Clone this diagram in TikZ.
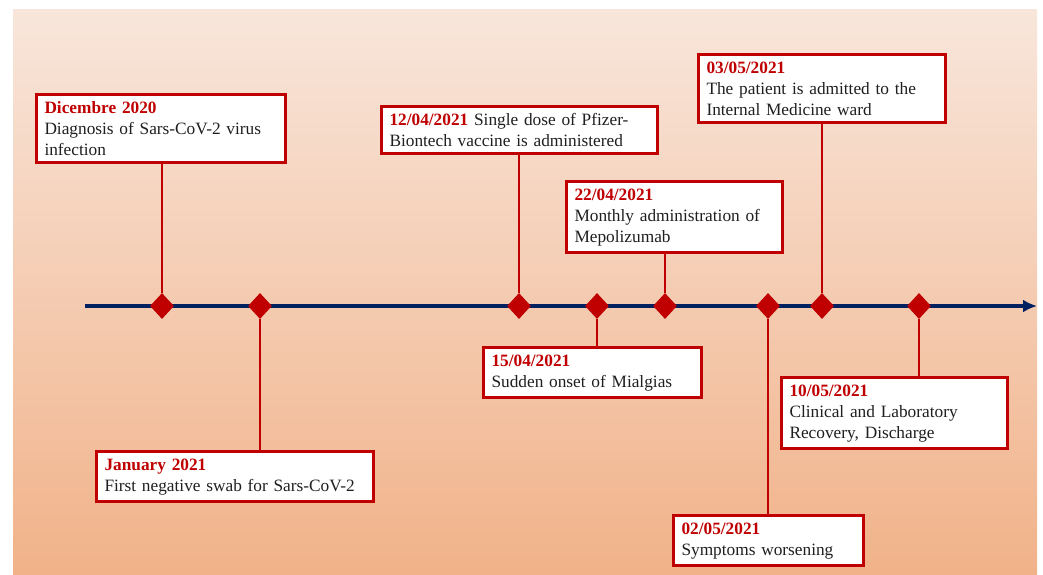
\documentclass[tikz,border=0pt]{standalone}
\usepackage{fontspec}
\setmainfont{Liberation Serif}
\usepackage{tikz}
\usetikzlibrary{arrows.meta,shapes.geometric}

\definecolor{evred}{RGB}{192,0,0}
\definecolor{axisblue}{RGB}{0,32,96}
\definecolor{peachtop}{RGB}{248,230,219}
\definecolor{peachbot}{RGB}{241,178,137}

\newcommand{\evdate}[1]{{\color{evred}\bfseries #1}}

\begin{document}
\begin{tikzpicture}[x=1pt,y=-1pt,
		event/.style={rectangle,draw=evred,line width=3pt,fill=white,anchor=north west,
			align=left,inner xsep=8pt,inner ysep=7pt,text=black!88,font=\fontsize{17.3}{21}\selectfont},
		evdiamond/.style={diamond,fill=evred,inner sep=0pt,minimum width=24pt,minimum height=26pt},
		stem/.style={evred,line width=2pt}]
		\useasboundingbox (0,0) rectangle (1043,574);
		\shade[top color=peachtop,bottom color=peachbot] (13,9) rectangle (1037,574);
%		\draw[help lines,step=50] (0,0) grid (1043,574);
		\path (85,306) coordinate (tl_start);
		\path (1037,306) coordinate (tl_end);

		\draw[axisblue,line width=3.5pt,-{Latex[length=14pt,width=13pt]}] (tl_start) -- (tl_end);

		\node[evdiamond] (dic20) at (162,306) {};
		\node[evdiamond] (jan21) at (260,306) {};
		\node[evdiamond] (apr12) at (519,306) {};
		\node[evdiamond] (apr15) at (597,306) {};
		\node[evdiamond] (apr22) at (665,306) {};
		\node[evdiamond] (may02) at (768,306) {};
		\node[evdiamond] (may03) at (822,306) {};
		\node[evdiamond] (may10) at (919,306) {};

		\node[event,text width=233pt] (dic20_box) at (35,93)
			{\evdate{Dicembre 2020}\\Diagnosis of Sars-CoV-2 virus\\infection};
		\node[event,text width=261pt] (jan21_box) at (95,450)
			{\evdate{January 2021}\\First negative swab for Sars-CoV-2};
		\node[event,text width=260pt] (apr12_box) at (380,105)
			{\evdate{12/04/2021} Single dose of Pfizer-\\Biontech vaccine is administered};
		\node[event,text width=202pt] (apr15_box) at (482,346)
			{\evdate{15/04/2021}\\Sudden onset of Mialgias};
		\node[event,text width=200pt] (apr22_box) at (565,180)
			{\evdate{22/04/2021}\\Monthly administration of\\Mepolizumab};
		\node[event,text width=174pt] (may02_box) at (672,514)
			{\evdate{02/05/2021}\\Symptoms worsening};
		\node[event,text width=231pt] (may03_box) at (697,53)
			{\evdate{03/05/2021}\\The patient is admitted to the\\Internal Medicine ward};
		\node[event,text width=210pt] (may10_box) at (780,376)
			{\evdate{10/05/2021}\\Clinical and Laboratory\\Recovery, Discharge};

		\draw[stem] (dic20) -- (dic20 |- dic20_box.south);
		\draw[stem] (jan21) -- (jan21 |- jan21_box.north);
		\draw[stem] (apr12) -- (apr12 |- apr12_box.south);
		\draw[stem] (apr15) -- (apr15 |- apr15_box.north);
		\draw[stem] (apr22) -- (apr22 |- apr22_box.south);
		\draw[stem] (may02) -- (may02 |- may02_box.north);
		\draw[stem] (may03) -- (may03 |- may03_box.south);
		\draw[stem] (may10) -- (may10 |- may10_box.north);
	\end{tikzpicture}
\end{document}
